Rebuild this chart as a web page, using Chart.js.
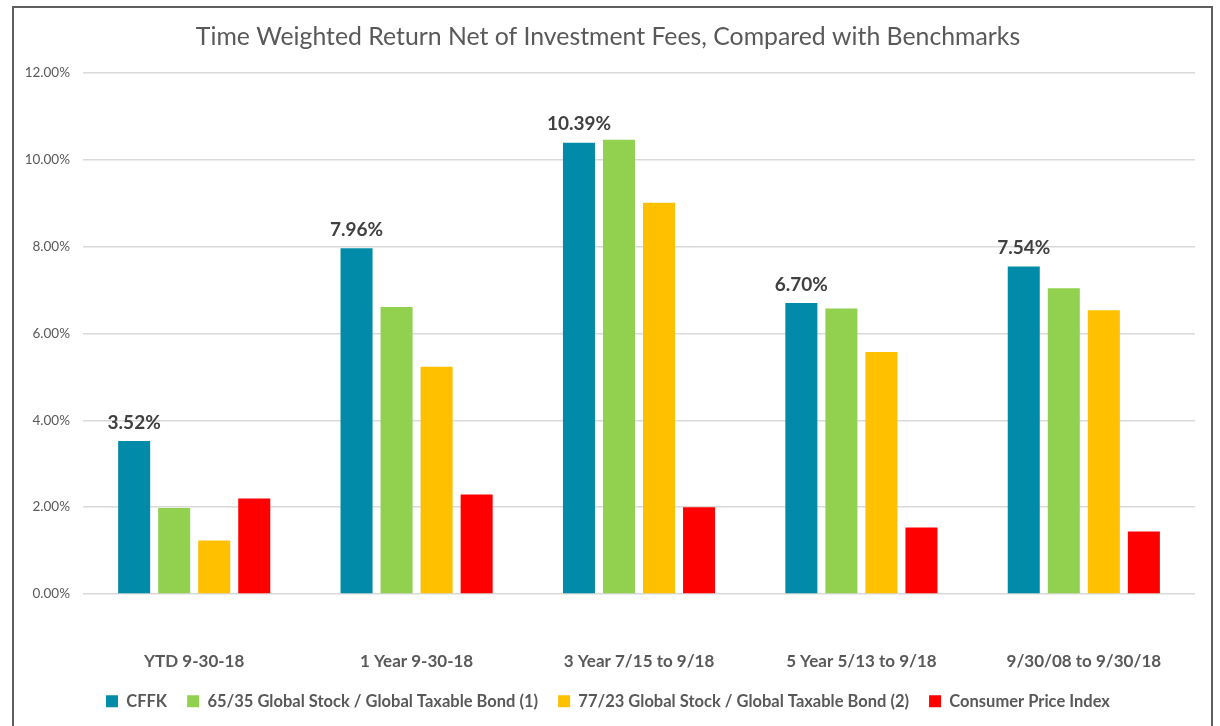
<!DOCTYPE html>
<html>
<head>
<meta charset="utf-8">
<script src="https://cdn.jsdelivr.net/npm/chart.js@4"></script>
<style>
  body { margin: 0; background: #fff; }
  #wrap { position: relative; width: 1220px; height: 726px; overflow: hidden; }
  #frame { position: absolute; left: 12px; top: 6px; width: 1201px; height: 740px; border: 2px solid #5f5f5f; box-sizing: border-box; pointer-events: none; }
  canvas { position: absolute; left: 0; top: 0; }
</style>
</head>
<body>
<div id="wrap">
  <canvas id="twrChart" width="1220" height="726"></canvas>
  <div id="frame"></div>
</div>
<script>
// Data
const periods = ["YTD 9-30-18", "1 Year 9-30-18", "3 Year 7/15 to 9/18", "5 Year 5/13 to 9/18", "9/30/08 to 9/30/18"];
const cffk = [3.52, 7.96, 10.39, 6.70, 7.54];
const mix6535 = [1.98, 6.61, 10.46, 6.57, 7.04];
const mix7723 = [1.23, 5.23, 9.01, 5.57, 6.53];
const cpi = [2.20, 2.29, 2.00, 1.53, 1.44];
const yTicks = [0, 2, 4, 6, 8, 10, 12];

const FONT = "Lato, 'Open Sans', sans-serif";
const GREY = "#595959";

// Bold value labels above the CFFK bars only
const cffkLabels = {
  id: "cffkLabels",
  afterDatasetsDraw(chart) {
    const ctx = chart.ctx;
    const meta = chart.getDatasetMeta(0);
    ctx.save();
    ctx.font = "bold 19px " + FONT;
    ctx.fillStyle = "#404040";
    ctx.textAlign = "center";
    ctx.textBaseline = "bottom";
    meta.data.forEach((bar, i) => {
      ctx.fillText(cffk[i].toFixed(2) + "%", bar.x, bar.y - 9);
    });
    ctx.restore();
  }
};

new Chart(document.getElementById("twrChart"), {
  type: "bar",
  data: {
    labels: periods,
    datasets: [
      { label: "CFFK", data: cffk, backgroundColor: "#028BA8" },
      { label: "65/35 Global Stock / Global Taxable Bond (1)", data: mix6535, backgroundColor: "#92D050" },
      { label: "77/23 Global Stock / Global Taxable Bond (2)", data: mix7723, backgroundColor: "#FFC000" },
      { label: "Consumer Price Index", data: cpi, backgroundColor: "#FF0000" }
    ]
  },
  options: {
    responsive: false,
    animation: false,
    datasets: { bar: { barPercentage: 0.8, categoryPercentage: 0.72 } },
    layout: { padding: { left: 15, right: 19, top: 14, bottom: 6.5 } },
    plugins: {
      title: {
        display: true,
        text: "Time Weighted Return Net of Investment Fees, Compared with Benchmarks",
        color: GREY,
        font: { family: FONT, size: 24.8, weight: "normal" },
        padding: { top: 8, bottom: 21 }
      },
      legend: {
        position: "bottom",
        labels: {
          color: GREY,
          font: { family: FONT, size: 16.5, weight: "bold" },
          boxWidth: 12,
          boxHeight: 12,
          padding: 20
        }
      },
      tooltip: { enabled: false }
    },
    scales: {
      x: {
        afterFit: s => { s.height = 79; },
        grid: { display: false, drawTicks: false },
        border: { display: false },
        ticks: { color: GREY, font: { family: FONT, size: 17, weight: "bold" }, padding: 57 }
      },
      y: {
        min: 0,
        max: 12,
        afterFit: s => { s.width = 68; },
        afterBuildTicks: s => { s.ticks = yTicks.map(v => ({ value: v })); },
        grid: { color: "#d9d9d9", lineWidth: 1.5, drawTicks: false },
        border: { display: false },
        ticks: {
          color: GREY,
          font: { family: FONT, size: 13.5 },
          padding: 13,
          callback: v => v.toFixed(2) + "%"
        }
      }
    }
  },
  plugins: [cffkLabels]
});
</script>
</body>
</html>
